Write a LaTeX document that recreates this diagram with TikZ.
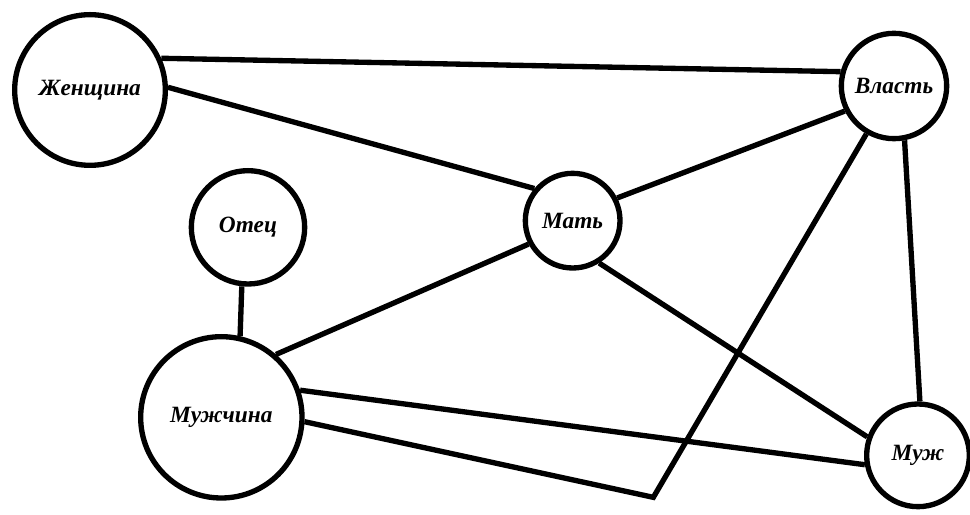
\documentclass[tikz,border=0pt]{standalone}
\usepackage{fontspec}
\setmainfont{Liberation Serif}
\usepackage{tikz}
\usetikzlibrary{positioning,calc}

\begin{document}
\begin{tikzpicture}[line width=4pt,on grid,auto,
  place/.style={circle,draw,inner sep=0pt,font=\fontsize{17.5}{20}\selectfont\bfseries\itshape}]
\useasboundingbox (0,0) rectangle (727.5pt,385.5pt);
\node[place,minimum size=113pt](c_zhen) at (67.5pt,318pt) {Женщина};
\node[place,minimum size=79pt](c_vlast)[right=603pt of c_zhen,yshift=3pt]{Власть};
\node[place,minimum size=71pt](c_mat)[below right=98pt and 362pt of c_zhen]{Мать};
\node[place,minimum size=85pt](c_otec)[below right=103pt and 118.5pt of c_zhen]{Отец};
\node[place,minimum size=121pt](c_muzhch)[below left=142.5pt and 20pt of c_otec]{Мужчина};
\node[place,minimum size=77pt](c_muzh)[below right=277pt and 18pt of c_vlast]{\raisebox{-6pt}{Муж}};
\node[coordinate](c_bend)[below right=60pt and 324pt of c_muzhch]{};
\draw (c_zhen.24) -- (c_vlast.165);
\draw (c_zhen.2) -- (c_mat.140);
\draw (c_mat.27) -- (c_vlast.207);
\draw (c_mat.208) -- (c_muzhch.49);
\draw (c_mat.-58) -- (c_muzh.160);
\draw (c_vlast.-79) -- (c_muzh.88);
\draw (c_otec.-96) -- (c_muzhch.77);
\draw (c_muzhch.19) -- (c_muzh.190);
\draw (c_muzhch.-3) -- (c_bend) -- (c_vlast.240);
\end{tikzpicture}
\end{document}
